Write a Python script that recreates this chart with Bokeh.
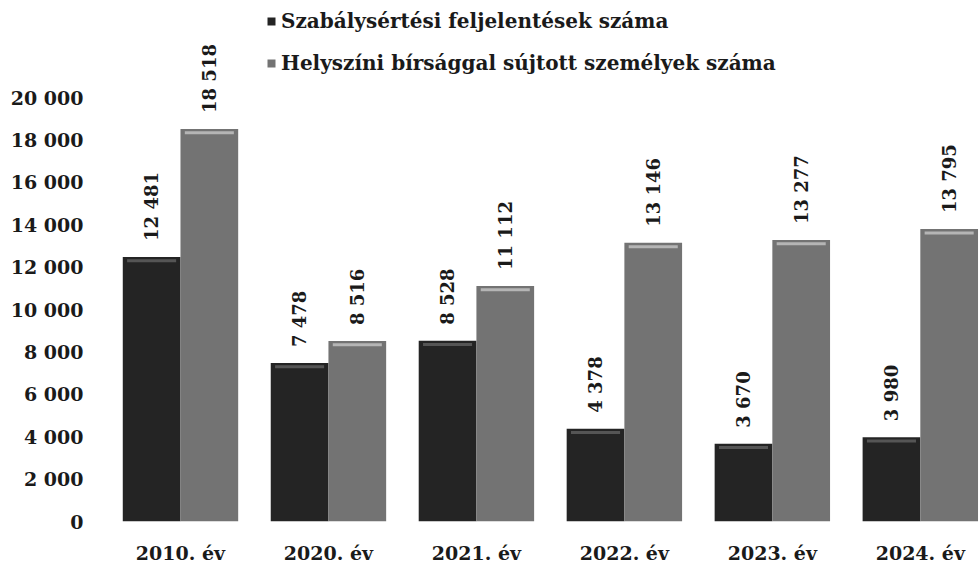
from bokeh.plotting import figure
from bokeh.models import ColumnDataSource, Range1d, FixedTicker, Legend, LegendItem, LabelSet
from bokeh.embed import file_html
from bokeh.resources import INLINE
from bokeh.core.properties import value

categories = ["2010. év", "2020. év", "2021. év", "2022. év", "2023. év", "2024. év"]
feljelentesek = [12481, 7478, 8528, 4378, 3670, 3980]
birsag = [18518, 8516, 11112, 13146, 13277, 13795]
series_names = ["Szabálysértési feljelentések száma", "Helyszíni bírsággal sújtott személyek száma"]
y_ticks = list(range(0, 20001, 2000))

FONT = "DejaVu Serif"
DARK = "#242424"
LIGHT = "#737373"

idx = list(range(len(categories)))
bw = 0.39
fmt = lambda v: f"{v:,}".replace(",", " ")

src1 = ColumnDataSource(dict(x=[i - bw / 2 for i in idx], top=feljelentesek,
                             lab=[fmt(v) for v in feljelentesek],
                             hl=[v - 180 for v in feljelentesek]))
src2 = ColumnDataSource(dict(x=[i + bw / 2 for i in idx], top=birsag,
                             lab=[fmt(v) for v in birsag],
                             hl=[v - 180 for v in birsag]))

p = figure(frame_width=873, frame_height=513, output_backend="svg", toolbar_location=None,
           x_range=Range1d(-0.5, 5.4), y_range=Range1d(0, 24200),
           min_border_left=0, min_border_right=0, min_border_top=8, min_border_bottom=0,
           margin=(0, 0, 0, 7))
p.outline_line_color = None
p.background_fill_color = "white"
p.border_fill_color = "white"
p.xgrid.visible = False
p.ygrid.visible = False

r1 = p.vbar(x="x", top="top", bottom=0, width=bw, source=src1, fill_color=DARK, line_color=None)
r2 = p.vbar(x="x", top="top", bottom=0, width=bw, source=src2, fill_color=LIGHT, line_color=None)
# subtle highlight near the top of each bar
p.vbar(x="x", top="hl", bottom="hl", width=bw * 0.85, source=src1, line_color="#555555", line_width=3)
p.vbar(x="x", top="hl", bottom="hl", width=bw * 0.85, source=src2, line_color="#b5b5b5", line_width=3)

for s in (src1, src2):
    p.add_layout(LabelSet(x="x", y="top", text="lab", source=s, angle=1.5708,
                          text_align="left", text_baseline="middle", x_offset=0, y_offset=16,
                          text_font=value(FONT), text_font_style="bold", text_font_size="18px",
                          text_color="#1a1a1a"))

p.xaxis.ticker = FixedTicker(ticks=idx)
p.xaxis.major_label_overrides = {i: c for i, c in zip(idx, categories)}
p.yaxis.ticker = FixedTicker(ticks=y_ticks)
p.yaxis.major_label_overrides = {t: fmt(t) for t in y_ticks}
for ax in (p.xaxis, p.yaxis):
    ax.axis_line_color = None
    ax.major_tick_line_color = None
    ax.minor_tick_line_color = None
    ax.major_tick_out = 0
    ax.major_tick_in = 0
    ax.major_label_text_font = FONT
    ax.major_label_text_font_style = "bold"
    ax.major_label_text_font_size = "19px"
    ax.major_label_text_color = "#1a1a1a"
p.xaxis.major_label_standoff = 20
p.yaxis.major_label_standoff = 23

legend = Legend(items=[LegendItem(label=series_names[0], renderers=[r1]),
                       LegendItem(label=series_names[1], renderers=[r2])],
                location=(160, 446), orientation="vertical", padding=0, margin=0,
                spacing=18, label_height=24, glyph_height=10, glyph_width=10, label_standoff=5,
                label_text_font=FONT, label_text_font_style="bold", label_text_font_size="20px",
                label_text_color="#1a1a1a", background_fill_alpha=0, border_line_color=None)
p.add_layout(legend)

open("out.html", "w").write(file_html(p, INLINE))
